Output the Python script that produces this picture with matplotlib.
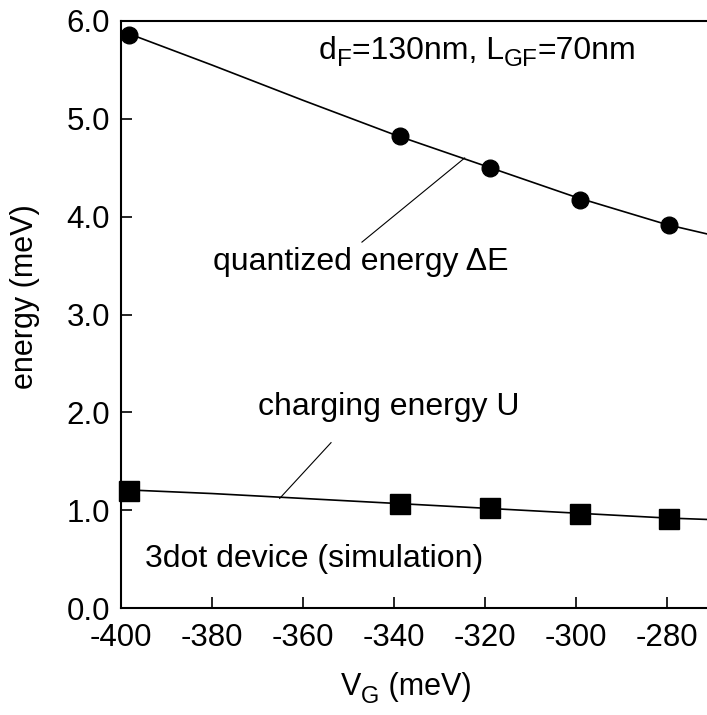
import matplotlib
matplotlib.use("Agg")
import matplotlib.pyplot as plt

plt.rcParams['font.family'] = ['Liberation Sans', 'DejaVu Sans']

# data
vg_points = [-398.2, -338.7, -318.9, -299.1, -279.5]
dE_points = [5.86, 4.82, 4.50, 4.17, 3.91]
U_points = [1.20, 1.06, 1.02, 0.96, 0.91]

vg_fit_dE = [-400, -380, -360, -340, -320, -300, -280, -268]
dE_fit = [5.90, 5.55, 5.19, 4.84, 4.52, 4.20, 3.92, 3.79]
vg_fit_U = [-400, -380, -360, -340, -320, -300, -280, -268]
U_fit = [1.21, 1.17, 1.12, 1.07, 1.02, 0.97, 0.92, 0.90]

xticks = [-400, -380, -360, -340, -320, -300, -280]
yticks = [0, 1, 2, 3, 4, 5, 6]
ytick_labels = ['0.0', '1.0', '2.0', '3.0', '4.0', '5.0', '6.0']

leader_dE_x = [-347.0, -324.4]
leader_dE_y = [3.74, 4.60]
leader_U_x = [-365.1, -353.8]
leader_U_y = [1.12, 1.69]

FS = 22
FS_ANN = 23
FS_TICK = 22.5

fig = plt.figure(figsize=(7.07, 7.15), dpi=100)
ax = fig.add_axes([121/707, 107/715, 591/707, 587/715])

ax.plot(vg_fit_dE, dE_fit, color='black', lw=1.2)
ax.plot(vg_fit_U, U_fit, color='black', lw=1.2)
ax.plot(vg_points, dE_points, 'o', color='black', ms=12, clip_on=False, zorder=5)
ax.plot(vg_points, U_points, 's', color='black', ms=14, clip_on=False, zorder=5)
ax.plot(leader_dE_x, leader_dE_y, color='black', lw=0.8)
ax.plot(leader_U_x, leader_U_y, color='black', lw=0.8)

ax.set_xlim(-400, -270)
ax.set_ylim(0, 6.0)
ax.set_xticks(xticks)
ax.set_xticklabels([str(t) for t in xticks])
ax.set_yticks(yticks)
ax.set_yticklabels(ytick_labels)

for s in ax.spines.values():
    s.set_linewidth(1.5)
ax.spines['right'].set_visible(False)

ax.tick_params(axis='both', direction='in', length=8, width=1.2, labelsize=FS_TICK)
ax.tick_params(axis='x', pad=11)
ax.tick_params(axis='y', pad=8)

ax.set_ylabel('energy (meV)', fontsize=FS)
ax.yaxis.set_label_coords(-0.137, 0.53)

renderer = fig.canvas.get_renderer()


def rich_text(x_px, y_px, pieces):
    """Place a sequence of (text, size, dy_px) pieces starting at pixel
    (x_px, y_px) = left/baseline, in figure pixel coords (from top)."""
    W, H = fig.bbox.width, fig.bbox.height
    x = x_px
    for txt, size, dy in pieces:
        t = fig.text(x / W, (H - (y_px + dy)) / H, txt, fontsize=size,
                     ha='left', va='baseline')
        bb = t.get_window_extent(renderer)
        x += bb.width


# x label, subscript G
rich_text(341, 695, [('V', FS, 0), ('G', 17, 8), (' (meV)', FS, 0)])

# top annotation
rich_text(319, 59, [('d', 23, 0), ('F', 17.5, 7), ('=130nm, L', 23, 0),
                    ('GF', 17.5, 7), ('=70nm', 23, 0)])

ax.text(-379.8, 3.45, 'quantized energy ΔE', fontsize=FS_ANN, va='baseline', ha='left')
ax.text(-369.9, 1.97, 'charging energy U', fontsize=FS_ANN, va='baseline', ha='left')
ax.text(-394.7, 0.42, '3dot device (simulation)', fontsize=FS_ANN, va='baseline', ha='left')

fig.savefig('out.png', dpi=100)
